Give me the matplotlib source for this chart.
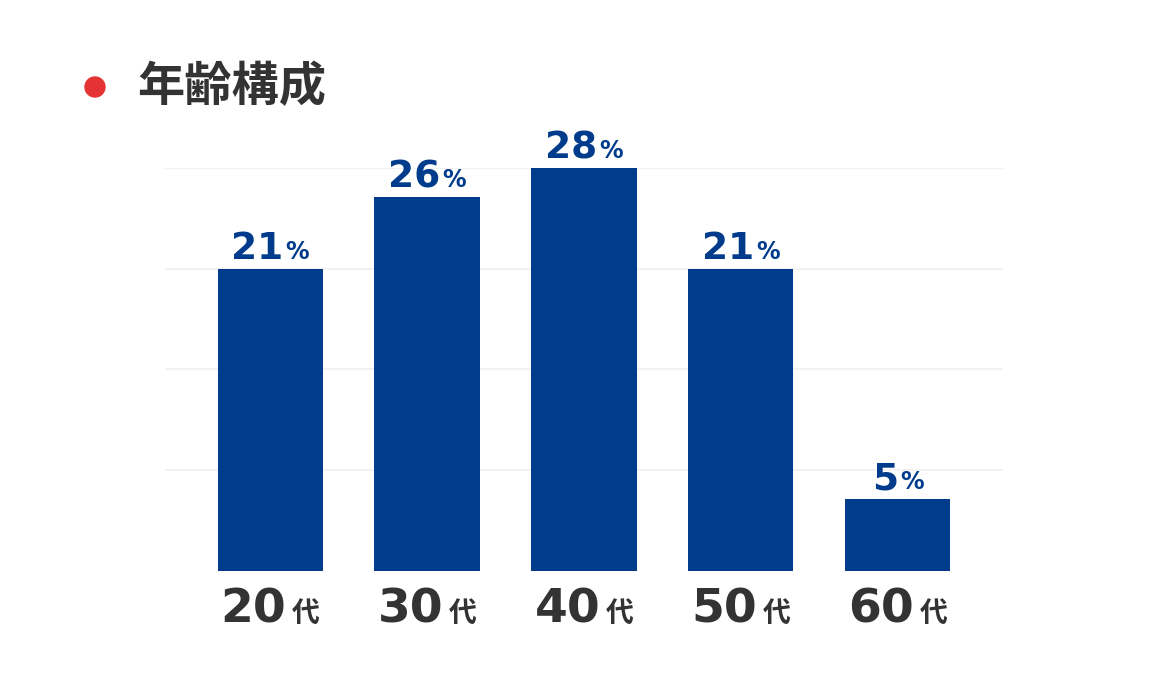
import matplotlib.pyplot as plt
from matplotlib.patches import Ellipse
import numpy as np

ages = ['20', '30', '40', '50', '60']
shares = [21, 26, 28, 21, 5]
grid_levels = [7, 14, 21, 28]

blue = '#003B8C'
dark = '#333333'
jp = ['Noto Sans CJK JP', 'DejaVu Sans']

fig = plt.figure(figsize=(11.6, 7), dpi=100)
ax = fig.add_axes([0.1422, 0.1843, 0.7224, 0.5757])

x = np.arange(len(ages))
ax.bar(x, shares, width=0.67, color=blue, zorder=2)
ax.set_xlim(-0.67, 4.67)
ax.set_ylim(0, 28)
for g in grid_levels:
    ax.axhline(g, color='#F2F2F2', lw=1.5, zorder=1)
ax.set_xticks([])
ax.set_yticks([])
for s in ax.spines.values():
    s.set_visible(False)

pairs = []  # (big text, small text, gap in points)

# value labels above the bars
for xi, v in zip(x, shares):
    a = ax.annotate(str(v), (xi, v), xytext=(0, 7), textcoords='offset points',
                    ha='left', va='baseline', fontsize=27, fontweight='bold',
                    color=blue, family='DejaVu Sans')
    b = ax.annotate('%', (xi, v), xytext=(0, 7), textcoords='offset points',
                    ha='left', va='baseline', fontsize=17, fontweight='bold',
                    color=blue, family='DejaVu Sans')
    pairs.append((a, b, 1.5))

# category labels under the bars
for xi, age in zip(x, ages):
    a = ax.annotate(age, (xi, 0), xytext=(0, -37), textcoords='offset points',
                    ha='left', va='baseline', fontsize=34, fontweight='bold',
                    color=dark, family='DejaVu Sans')
    b = ax.annotate('代', (xi, 0), xytext=(0, -37), textcoords='offset points',
                    ha='left', va='baseline', fontsize=20, fontweight='bold',
                    color=dark, family=jp)
    pairs.append((a, b, 4))

# centre each number+suffix pair on its bar
fig.canvas.draw()
r = fig.canvas.get_renderer()
k = 72 / fig.dpi
for a, b, gap in pairs:
    w1 = a.get_window_extent(r).width * k
    w2 = b.get_window_extent(r).width * k
    start = -(w1 + gap + w2) / 2
    y = a.xyann[1]
    a.xyann = (start, y)
    b.xyann = (start + w1 + gap, y)

# title with red dot
fig.patches.append(Ellipse((95 / 1160, 1 - 87 / 700), 20 / 1160, 20 / 700,
                           transform=fig.transFigure, color='#E53333'))
fig.text(137 / 1160, 1 - 87 / 700, '年齢構成', ha='left', va='center',
         fontsize=34, fontweight='bold', color=dark, family=jp)

fig.savefig('out.png', dpi=100, facecolor='white')
